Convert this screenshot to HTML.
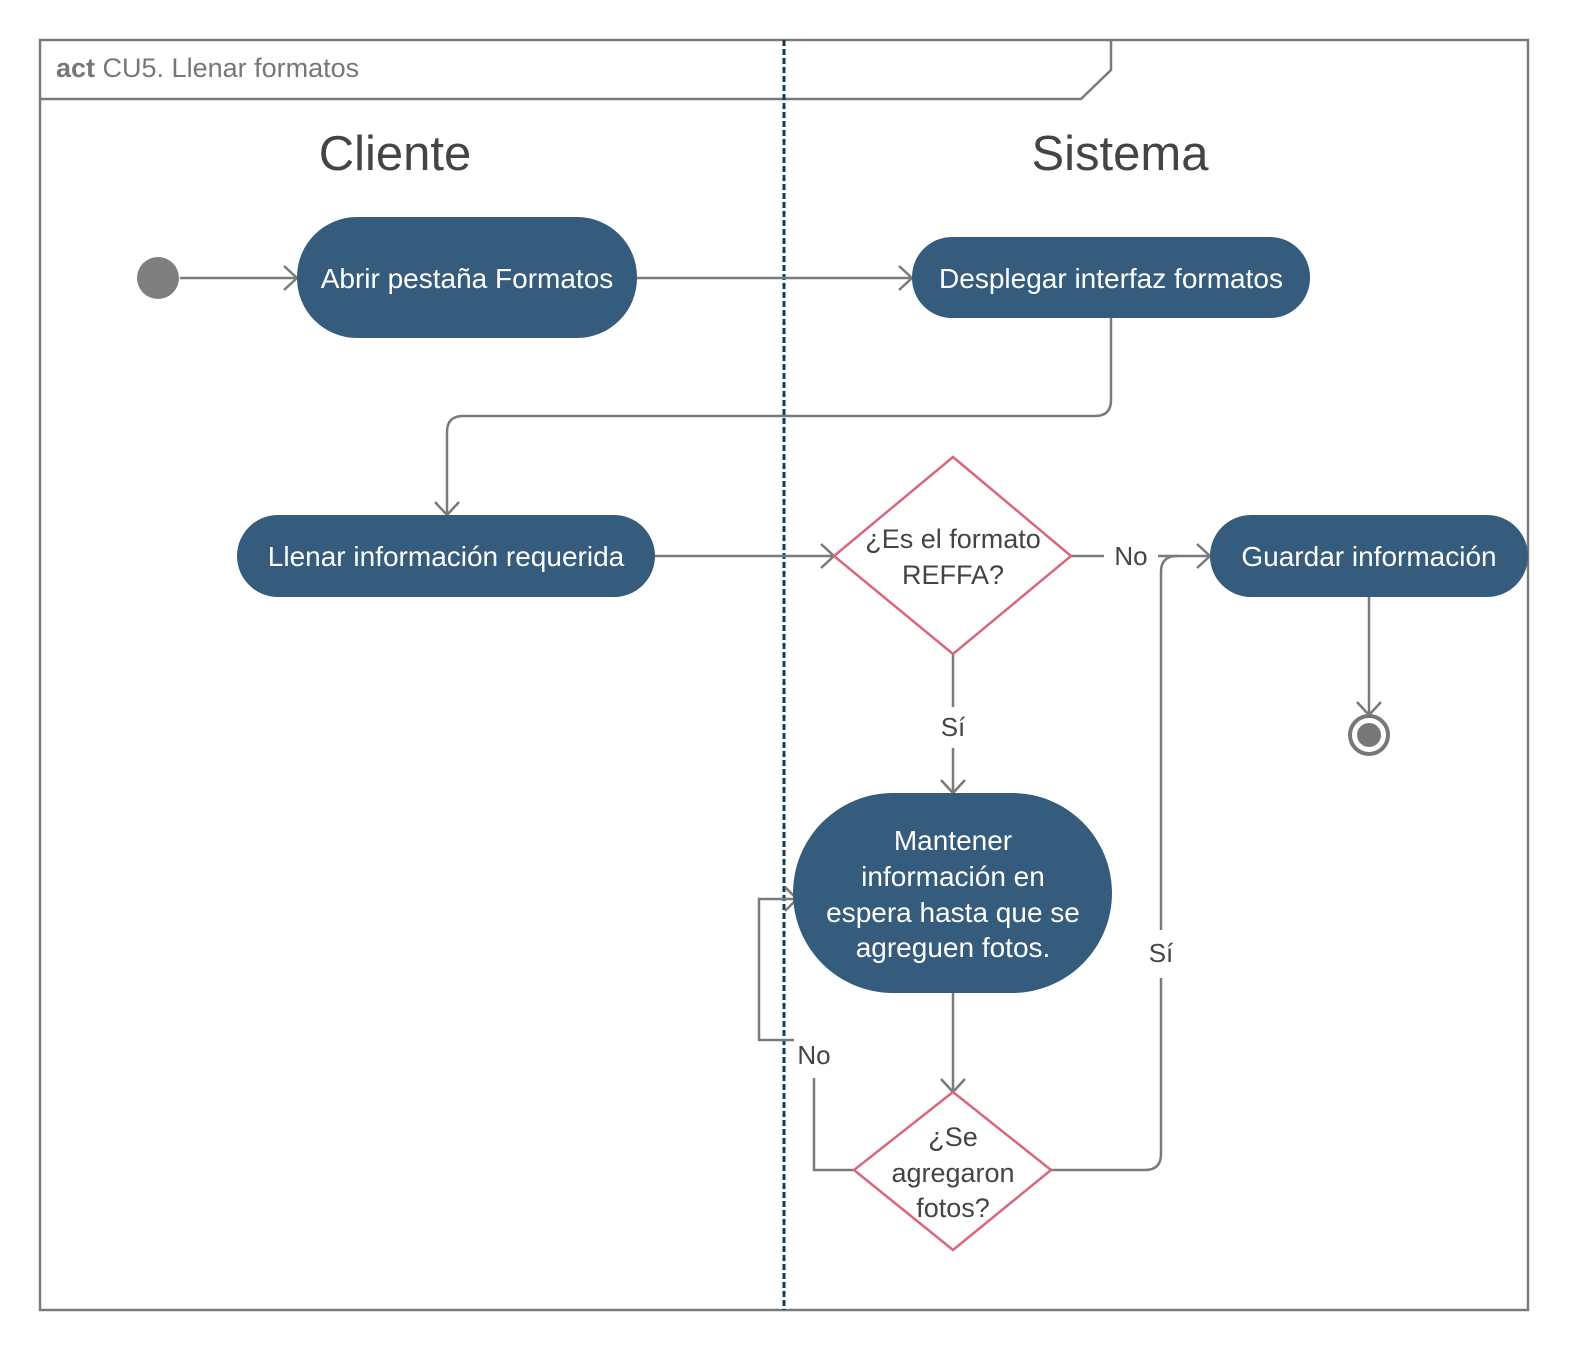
<!DOCTYPE html>
<html><head><meta charset="utf-8"><style>
html,body{margin:0;padding:0;background:#fff;}
svg{display:block;font-family:"Liberation Sans","DejaVu Sans",sans-serif;}
</style></head><body>
<svg width="1580" height="1360" viewBox="0 0 1580 1360" xmlns="http://www.w3.org/2000/svg">
<rect x="40" y="40" width="1488" height="1270" fill="#fff" stroke="#7a7a7a" stroke-width="2.5"/>
<polyline points="40,99 1081,99 1111,70 1111,40" fill="none" stroke="#7a7a7a" stroke-width="2.5"/>
<text x="56" y="77" font-size="27" fill="#777"><tspan font-weight="bold">act</tspan>  CU5. Llenar formatos</text>
<line x1="784" y1="40" x2="784" y2="1310" stroke="#123a57" stroke-width="3" stroke-dasharray="6,3"/>
<text x="395" y="170" font-size="49" fill="#444" text-anchor="middle">Cliente</text>
<text x="1120" y="170" font-size="49" fill="#444" text-anchor="middle">Sistema</text>

<g fill="none" stroke="#7a7a7a" stroke-width="2.5">
<line x1="180" y1="278" x2="297" y2="278"/><polyline points="284,266 297,278 284,290"/>
<line x1="637" y1="278" x2="912" y2="278"/><polyline points="899,266 912,278 899,290"/>
<path d="M1111,318 V400 Q1111,416 1095,416 H463 Q447,416 447,432 V515"/><polyline points="435,502 447,515 459,502"/>
<line x1="655" y1="556" x2="834" y2="556"/><polyline points="821,544 834,556 821,568"/>
<line x1="1071" y1="556" x2="1104" y2="556"/>
<line x1="1158" y1="556" x2="1210" y2="556"/><polyline points="1197,544 1210,556 1197,568"/>
<line x1="1369" y1="597" x2="1369" y2="715"/><polyline points="1357,702 1369,715 1381,702"/>
<line x1="953" y1="654" x2="953" y2="707"/><line x1="953" y1="748" x2="953" y2="793"/><polyline points="941,780 953,793 965,780"/>
<line x1="953" y1="993" x2="953" y2="1092"/><polyline points="941,1079 953,1092 965,1079"/>
<path d="M1051,1170 H1145 Q1161,1170 1161,1154 V978"/>
<path d="M1161,930 V572 Q1161,556 1177,556"/>
<polyline points="854,1170 814,1170 814,1078"/>
<polyline points="794,1040 759,1040 759,899 797,899"/><polyline points="785,887 797,899 785,911"/>
</g>

<circle cx="158" cy="278" r="21" fill="#7f7f7f"/>
<circle cx="1369" cy="735" r="19" fill="#fff" stroke="#777" stroke-width="4"/>
<circle cx="1369" cy="735" r="12" fill="#777"/>

<g fill="#355c7d">
<rect x="297" y="217" width="340" height="121" rx="60"/>
<rect x="912" y="237" width="398" height="81" rx="40"/>
<rect x="237" y="515" width="418" height="82" rx="41"/>
<rect x="1210" y="515" width="318" height="82" rx="41"/>
<rect x="793" y="793" width="319" height="200" rx="100"/>
</g>
<g fill="#fff" font-size="28" text-anchor="middle">
<text x="467" y="288">Abrir pestaña Formatos</text>
<text x="1111" y="288">Desplegar interfaz formatos</text>
<text x="446" y="566">Llenar información requerida</text>
<text x="1369" y="566">Guardar información</text>
<text x="953" y="850">Mantener</text>
<text x="953" y="886">información en</text>
<text x="953" y="922">espera hasta que se</text>
<text x="953" y="957">agreguen fotos.</text>
</g>
<polygon points="953,457 1071,556 953,654 834,556" fill="#fff" stroke="#d9677a" stroke-width="2.5"/>
<polygon points="953,1092 1051,1170 953,1250 854,1170" fill="#fff" stroke="#d9677a" stroke-width="2.5"/>
<g fill="#444" font-size="27" text-anchor="middle">
<text x="953" y="548">¿Es el formato</text>
<text x="953" y="584">REFFA?</text>
<text x="953" y="1146">¿Se</text>
<text x="953" y="1182">agregaron</text>
<text x="953" y="1217">fotos?</text>
</g>
<g fill="#444" font-size="26" text-anchor="middle">
<text x="1131" y="565">No</text>
<text x="953" y="736">Sí</text>
<text x="1161" y="962">Sí</text>
<text x="814" y="1064">No</text>
</g>
</svg>
</body></html>
